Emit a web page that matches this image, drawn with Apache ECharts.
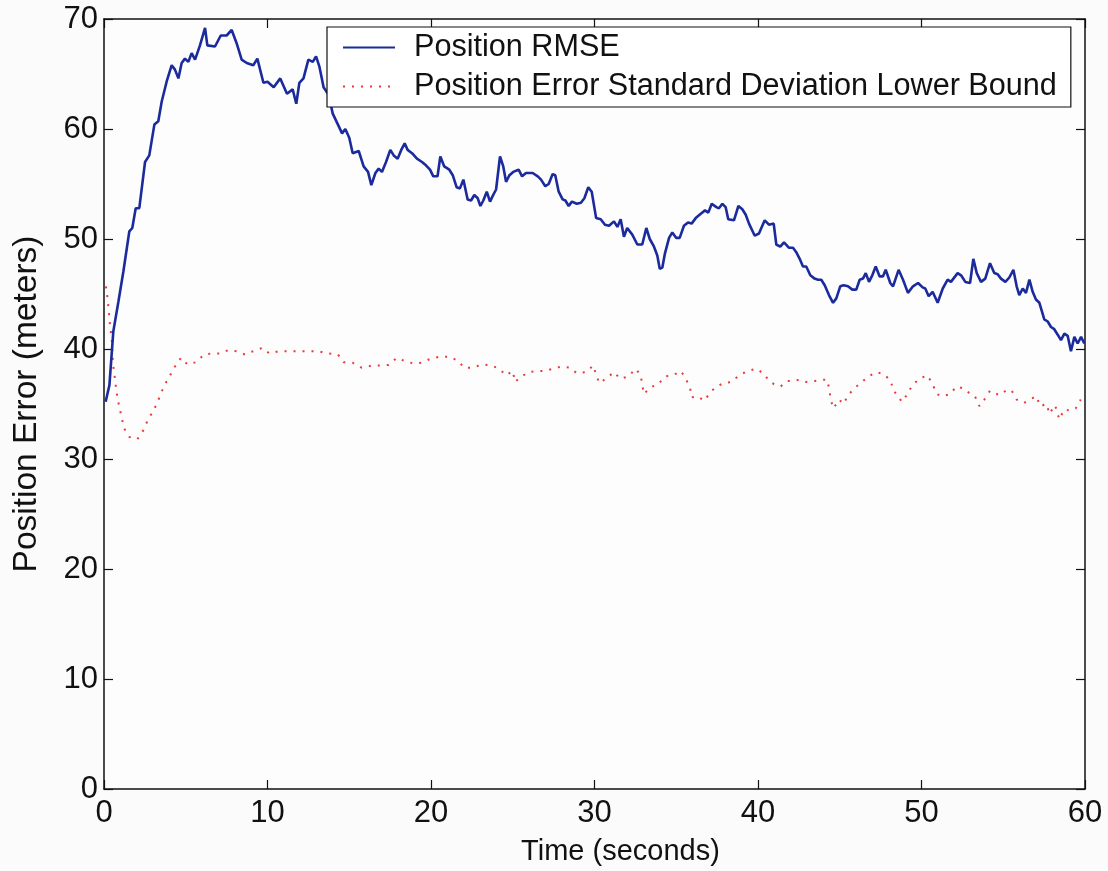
<!DOCTYPE html>
<html>
<head>
<meta charset="utf-8">
<script src="https://cdn.jsdelivr.net/npm/echarts@6/dist/echarts.min.js"></script>
<style>
html,body{margin:0;padding:0;background:#fbfbfb;}
#chart{width:1108px;height:871px;}
</style>
</head>
<body>
<div id="chart"></div>
<script>
// ---- Data ----
const xTicks = [0, 10, 20, 30, 40, 50, 60];
const yTicks = [0, 10, 20, 30, 40, 50, 60, 70];

const seriesNames = ['Position RMSE', 'Position Error Standard Deviation Lower Bound'];

const rmseTime = [0.1,0.33,0.57,0.88,1.18,1.55,1.73,1.94,2.16,2.51,2.77,3.08,3.32,3.53,3.83,4.14,4.34,4.55,4.75,4.95,5.16,5.36,5.57,5.87,6.18,6.32,6.79,7.14,7.5,7.81,8.11,8.42,8.73,9.13,9.38,9.75,10.0,10.38,10.78,11.19,11.54,11.76,11.95,12.2,12.5,12.77,12.97,13.17,13.43,13.74,13.99,14.31,14.56,14.76,15.0,15.21,15.58,15.88,16.15,16.35,16.6,16.8,17.0,17.25,17.51,17.72,17.96,18.18,18.39,18.57,18.84,19.14,19.45,19.69,19.94,20.14,20.4,20.57,20.81,21.12,21.33,21.57,21.77,21.98,22.24,22.45,22.65,22.86,23.02,23.2,23.41,23.61,23.77,23.98,24.22,24.42,24.59,24.8,25.03,25.36,25.57,25.81,26.22,26.53,26.73,26.99,27.2,27.44,27.6,27.81,28.05,28.22,28.42,28.62,28.91,29.17,29.38,29.62,29.83,30.1,30.38,30.64,30.89,31.19,31.4,31.6,31.8,32.0,32.31,32.62,32.92,33.17,33.38,33.64,33.84,33.99,34.15,34.31,34.56,34.76,35.0,35.21,35.47,35.72,35.94,36.19,36.5,36.76,36.96,37.17,37.45,37.61,37.82,38.02,38.18,38.53,38.8,39.04,39.25,39.45,39.8,40.06,40.41,40.67,40.96,41.12,41.36,41.59,41.9,42.14,42.34,42.55,42.75,42.95,43.2,43.46,43.67,43.87,44.08,44.34,44.59,44.79,45.03,45.24,45.5,45.77,46.01,46.22,46.42,46.59,46.79,46.99,47.2,47.44,47.64,47.81,48.09,48.26,48.6,48.87,49.17,49.48,49.79,50.07,50.23,50.44,50.68,50.99,51.3,51.6,51.8,52.21,52.42,52.68,52.97,53.17,53.38,53.64,53.9,54.19,54.45,54.66,54.86,55.13,55.37,55.62,55.82,55.98,56.19,56.39,56.6,56.8,57.0,57.21,57.37,57.51,57.72,57.92,58.12,58.33,58.53,58.74,58.94,59.14,59.35,59.55,59.76,59.96];
const rmseValues = [35.2,36.7,41.6,44.3,47.0,50.7,51.0,52.8,52.8,57.0,57.6,60.4,60.7,62.5,64.3,65.8,65.4,64.6,66.0,66.4,66.1,66.9,66.3,67.6,69.2,67.6,67.5,68.5,68.5,69.0,67.8,66.3,66.0,65.8,66.4,64.2,64.3,63.8,64.6,63.2,63.6,62.3,64.2,64.6,66.3,66.1,66.6,65.7,63.8,63.1,61.4,60.4,59.6,60.0,59.2,57.8,58.0,56.6,56.1,54.9,56.0,56.4,56.1,57.0,58.1,57.6,57.3,58.1,58.7,58.1,57.8,57.3,57.0,56.7,56.3,55.7,55.7,57.5,56.6,56.3,55.8,54.7,54.6,55.4,53.6,53.5,54.0,53.7,53.0,53.5,54.3,53.4,53.9,54.5,57.5,56.6,55.2,55.8,56.1,56.3,55.7,56.0,56.0,55.7,55.4,54.8,55.0,55.9,55.8,54.3,53.6,53.5,53.0,53.4,53.2,53.3,53.7,54.7,54.3,51.9,51.8,51.3,51.2,51.6,51.1,51.8,50.2,51.0,50.4,49.5,49.5,51.0,50.0,49.3,48.5,47.3,47.4,48.7,50.1,50.6,50.1,50.1,51.2,51.5,51.4,51.9,52.3,52.6,52.4,53.2,52.9,52.8,53.2,52.9,51.8,51.7,53.0,52.7,52.2,51.4,50.3,50.5,51.7,51.3,51.4,49.5,49.3,49.7,49.2,49.2,48.8,48.2,47.5,47.5,46.7,46.4,46.3,46.3,45.8,44.9,44.2,44.6,45.7,45.8,45.7,45.4,45.4,46.3,46.4,46.9,46.1,46.7,47.5,46.6,46.6,47.2,46.0,45.7,47.2,46.3,45.1,45.7,46.0,45.6,45.5,44.8,45.2,44.2,45.5,46.3,46.1,46.9,46.7,46.1,46.0,48.2,46.9,46.1,46.4,47.8,46.9,46.8,46.4,46.1,46.5,47.2,45.7,44.9,45.5,45.1,46.3,45.2,44.5,44.2,43.4,42.7,42.5,42.0,41.8,41.3,40.8,41.4,41.2,39.8,41.1,40.5,41.1,40.5];

const boundTime = [0.12,0.2,0.27,0.33,0.37,0.47,0.53,0.57,0.67,0.73,0.82,0.94,1.08,1.22,1.55,2.04,2.4,2.67,2.98,3.26,3.49,3.73,4.04,4.34,4.71,5.1,5.63,6.12,6.59,7.1,7.6,8.11,8.62,9.13,9.68,10.11,10.68,11.3,11.9,12.52,13.09,13.7,14.31,14.65,15.21,15.75,16.3,16.84,17.4,17.91,18.32,18.88,19.4,19.95,20.51,21.16,21.67,22.02,22.55,23.14,23.71,24.18,24.59,25.0,25.14,25.44,25.95,26.5,26.91,27.48,27.93,28.5,28.91,29.48,29.93,30.09,30.29,30.7,31.19,31.56,32.07,32.52,32.83,32.92,33.03,33.39,33.9,34.31,34.78,35.29,35.58,35.84,35.94,36.29,36.72,37.1,37.47,37.92,38.35,38.84,39.35,39.92,40.39,40.67,40.98,41.39,41.79,42.1,42.51,42.94,43.49,43.93,44.24,44.36,44.45,44.61,44.97,45.22,45.52,45.87,46.28,46.75,47.26,47.71,48.12,48.28,48.54,48.79,49.1,49.4,49.85,50.36,50.68,50.93,51.3,51.74,52.15,52.6,52.92,53.27,53.54,53.84,54.19,54.76,55.25,55.52,55.82,56.27,56.73,57.04,57.25,57.66,57.82,58.17,58.43,58.72,59.08,59.43,59.74];
const boundValues = [45.7,44.8,43.8,42.9,42.0,41.1,39.2,38.4,37.3,36.5,35.6,34.7,33.8,32.8,32.0,31.8,32.6,33.5,34.3,35.1,36.0,36.8,37.6,38.4,39.2,38.6,38.8,39.5,39.6,39.6,39.9,39.8,39.5,39.8,40.1,39.6,39.8,39.8,39.8,39.8,39.8,39.6,39.5,38.8,38.75,38.3,38.45,38.5,38.55,39.2,38.95,38.7,38.75,39.1,39.3,39.3,38.9,38.3,38.3,38.6,38.5,38.2,37.6,38.0,37.0,37.4,37.9,38.0,38.0,38.2,38.4,38.3,37.8,37.9,38.5,37.7,36.9,37.3,37.9,37.3,37.5,38.2,37.6,36.7,35.9,36.5,36.8,37.5,37.6,38.0,37.3,36.5,35.6,35.7,35.3,36.1,36.6,36.9,37.0,37.6,38.0,38.2,37.7,37.1,36.8,36.6,37.1,37.1,37.2,37.0,37.1,37.2,37.2,36.3,35.4,34.6,35.4,35.0,35.8,36.4,36.9,37.5,37.9,37.7,37.1,36.2,35.8,35.2,35.8,36.6,37.3,37.6,36.8,35.9,35.7,35.9,36.6,36.4,36.0,35.7,34.8,35.4,36.2,35.8,36.3,36.2,35.4,35.1,35.5,35.7,34.8,35.0,34.1,34.9,33.6,34.5,34.4,34.6,35.4];

const xName = 'Time (seconds)';
const yName = 'Position Error (meters)';

// ---- Chart ----
const FONT = '"Liberation Sans", Arial, Helvetica, sans-serif';
const zip = (a, b) => a.map((t, i) => [t, b[i]]);

const chart = echarts.init(document.getElementById('chart'), null, {renderer: 'canvas'});

const axisCommon = {
  min: 0,
  splitLine: {show: false},
  axisLine: {show: true, onZero: false, lineStyle: {color: '#111', width: 1.5}},
  axisTick: {show: true, inside: true, length: 9, lineStyle: {color: '#111', width: 1.2}},
};

chart.setOption({
  backgroundColor: '#fbfbfb',
  animation: false,
  textStyle: {fontFamily: FONT},
  grid: {left: 104, right: 23, top: 19, bottom: 82, containLabel: false, show: true, backgroundColor: '#fdfdfd', borderWidth: 0},
  legend: {
    orient: 'vertical',
    left: 327,
    top: 27,
    padding: [5, 14, 5, 15],
    itemGap: 8,
    itemWidth: 52,
    itemHeight: 14,
    itemStyle: {opacity: 0},
    backgroundColor: '#ffffff',
    borderColor: '#111',
    borderWidth: 1.2,
    borderRadius: 0,
    textStyle: {fontSize: 30.6, color: '#111', fontFamily: FONT, padding: [0, 0, 0, 14], lineHeight: 31},
    data: seriesNames
  },
  xAxis: [
    Object.assign({}, axisCommon, {
      type: 'value', max: 60, interval: 10, position: 'bottom',
      name: xName, nameLocation: 'middle', nameGap: 48,
      nameTextStyle: {fontSize: 29, color: '#111', fontFamily: FONT, padding: [0, 0, 0, 52]},
      axisLabel: {fontSize: 31, color: '#111', margin: 9, fontFamily: FONT,
        formatter: v => xTicks.includes(v) ? String(v) : ''}
    }),
    Object.assign({}, axisCommon, {
      type: 'value', max: 60, interval: 10, position: 'top',
      axisLabel: {show: false}
    })
  ],
  yAxis: [
    Object.assign({}, axisCommon, {
      type: 'value', max: 70, interval: 10, position: 'left',
      name: yName, nameLocation: 'middle', nameGap: 60, nameRotate: 90,
      nameTextStyle: {fontSize: 33.5, color: '#111', fontFamily: FONT},
      axisLabel: {fontSize: 31, color: '#111', margin: 6, fontFamily: FONT,
        formatter: v => yTicks.includes(v) ? String(v) : ''}
    }),
    Object.assign({}, axisCommon, {
      type: 'value', max: 70, interval: 10, position: 'right',
      axisLabel: {show: false}
    })
  ],
  series: [
    {
      name: seriesNames[0],
      type: 'line',
      xAxisIndex: 0, yAxisIndex: 0,
      data: zip(rmseTime, rmseValues),
      showSymbol: false, symbol: 'none',
      lineStyle: {color: '#1b2a9c', width: 2.6},
      itemStyle: {color: '#1b2a9c'},
      z: 3
    },
    {
      name: seriesNames[1],
      type: 'line',
      xAxisIndex: 0, yAxisIndex: 0,
      data: zip(boundTime, boundValues),
      showSymbol: false, symbol: 'none',
      lineStyle: {color: '#e8383a', width: 2, type: [2, 7]},
      itemStyle: {color: '#e8383a'},
      z: 2
    }
  ]
});
</script>
</body>
</html>
